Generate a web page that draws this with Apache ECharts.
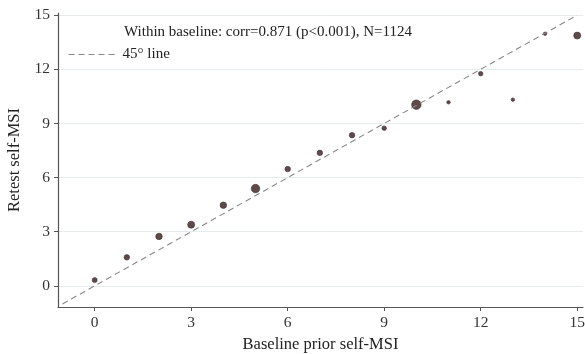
<!DOCTYPE html>
<html><head><meta charset="utf-8">
<script src="https://cdn.jsdelivr.net/npm/echarts@6/dist/echarts.min.js"></script>
<style>html,body{margin:0;padding:0;background:#fff}#c{width:585px;height:354px}</style>
</head><body><div id="c"></div>
<script>
const baseline = [0,1,2,3,4,5,6,7,8,9,10,11,12,13,14,15];
const retest = [0.32,1.58,2.74,3.39,4.47,5.39,6.47,7.37,8.35,8.74,10.04,10.17,11.76,10.32,13.97,13.87];
const markerSizes = [5,5.5,6.5,7,6.5,8.5,5.5,5.5,5.5,4.5,9.5,3.5,4.5,3.5,3.5,7];
const refLine = [[-1,-1],[15,15]];
const xTicks = [0,3,6,9,12,15];
const yTicks = [0,3,6,9,12,15];
const titleText = 'Within baseline: corr=0.871 (p<0.001), N=1124';
const font = 'Liberation Serif';

const chart = echarts.init(document.getElementById('c'));
chart.setOption({
  animation:false,
  backgroundColor:'#fff',
  textStyle:{fontFamily:font},
  title:{text:titleText,left:119,top:20,textStyle:{fontFamily:font,fontSize:15,fontWeight:'normal',color:'#222'}},
  legend:{data:['45° line'],left:63,top:42,itemWidth:49,itemHeight:10,itemGap:4,
    itemStyle:{opacity:0},
    lineStyle:{color:'#888',width:1.1,type:[6,4]},
    textStyle:{fontFamily:font,fontSize:15,color:'#222'}},
  grid:{left:58,right:2,top:13,bottom:47,outerBoundsMode:'none',containLabel:false},
  xAxis:{type:'value',min:-1.14,max:15.18,
    name:'Baseline prior self-MSI',nameLocation:'middle',nameGap:29,
    nameTextStyle:{fontFamily:font,fontSize:16.5,color:'#222'},
    axisLine:{show:true,onZero:false,lineStyle:{color:'#555',width:1.2}},
    axisTick:{show:true,customValues:xTicks,length:4,lineStyle:{color:'#555'}},
    axisLabel:{customValues:xTicks,fontFamily:font,fontSize:15.5,color:'#333',margin:8},
    splitLine:{show:false}},
  yAxis:{type:'value',min:-1.17,max:15.12,
    name:'Retest self-MSI',nameLocation:'middle',nameGap:30,
    nameTextStyle:{fontFamily:font,fontSize:16.5,color:'#222'},
    axisLine:{show:true,onZero:false,lineStyle:{color:'#555',width:1.2}},
    axisTick:{show:true,customValues:yTicks,length:4,lineStyle:{color:'#555'}},
    axisLabel:{customValues:yTicks,fontFamily:font,fontSize:15.5,color:'#333',margin:8},
    splitLine:{show:true,lineStyle:{color:'#e4ecee',width:1}}},
  series:[
    {name:'45° line',type:'line',data:refLine,symbol:'none',silent:true,
      lineStyle:{color:'#888',width:1.1,type:[6,4]}},
    {name:'points',type:'scatter',
      data:baseline.map((x,i)=>({value:[x,retest[i]],symbolSize:markerSizes[i]})),
      itemStyle:{color:'#5e4b49',borderColor:'#3e302e',borderWidth:0.6,opacity:1}}
  ]
});
</script></body></html>
